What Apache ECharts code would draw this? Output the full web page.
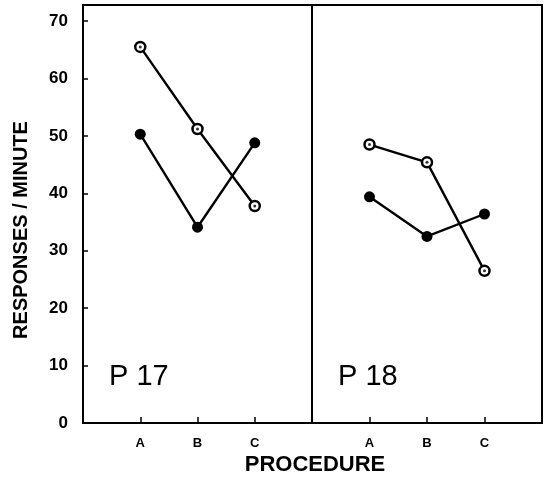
<!DOCTYPE html>
<html>
<head>
<meta charset="utf-8">
<script src="https://cdn.jsdelivr.net/npm/echarts@6/dist/echarts.min.js"></script>
<style>html,body{margin:0;padding:0;background:#fff;}#c{width:547px;height:482px;}</style>
</head>
<body>
<div id="c"></div>
<script>
const categories = ['A', 'B', 'C'];
const p17Open = [65.5, 51.2, 37.8];
const p17Filled = [50.3, 34.1, 48.8];
const p18Open = [48.5, 45.4, 26.5];
const p18Filled = [39.4, 32.5, 36.4];
const yTicks = [0, 10, 20, 30, 40, 50, 60, 70];
const panelLabels = ['P 17', 'P 18'];

const FONT = '"Liberation Sans", Arial, sans-serif';
const toXY = arr => arr.map((v, i) => [i + 1, v]);
const xPos = categories.map((c, i) => i + 1);

function xAxis(idx) {
  return {
    type: 'value', gridIndex: idx, min: 0, max: 4, interval: 1,
    axisLine: { show: true, lineStyle: { color: '#000', width: 2 } },
    axisTick: { show: true, inside: true, length: 6, customValues: xPos, lineStyle: { color: '#000', width: 1.5 } },
    axisLabel: {
      show: true, customValues: xPos, margin: 14, color: '#000',
      fontFamily: FONT, fontWeight: 'bold', fontSize: 13,
      formatter: v => categories[Math.round(v) - 1] || ''
    },
    splitLine: { show: false }
  };
}
function yAxis(idx) {
  return {
    type: 'value', gridIndex: idx, min: 0, max: 72.8, interval: 10,
    axisLine: { show: true, lineStyle: { color: '#000', width: 2 } },
    axisTick: { show: idx === 0, inside: true, length: 5, customValues: yTicks, lineStyle: { color: '#000', width: 1.5 } },
    axisLabel: {
      show: idx === 0, customValues: yTicks, margin: 15, color: '#000',
      fontFamily: FONT, fontWeight: 'bold', fontSize: 17
    },
    splitLine: { show: false }
  };
}
function lineSeries(idx, data, filled) {
  return {
    type: 'line', xAxisIndex: idx, yAxisIndex: idx, data: toXY(data),
    symbol: 'circle', symbolSize: filled ? 11 : 10,
    lineStyle: { color: '#000', width: 2.4 },
    itemStyle: { color: filled ? '#000' : '#fff', borderColor: '#000', borderWidth: filled ? 0 : 2.5 },
    z: 2, silent: true, animation: false
  };
}
function dotSeries(idx, data) {
  return {
    type: 'scatter', xAxisIndex: idx, yAxisIndex: idx, data: toXY(data),
    symbol: 'circle', symbolSize: 3, itemStyle: { color: '#000' },
    z: 5, silent: true, animation: false
  };
}

const chart = echarts.init(document.getElementById('c'), null, { renderer: 'canvas' });
chart.setOption({
  animation: false,
  backgroundColor: '#fff',
  grid: [
    { left: 83, top: 5, width: 229, height: 418, show: true, borderColor: '#000', borderWidth: 2, backgroundColor: 'transparent' },
    { left: 312, top: 5, width: 230, height: 418, show: true, borderColor: '#000', borderWidth: 2, backgroundColor: 'transparent' }
  ],
  xAxis: [xAxis(0), xAxis(1)],
  yAxis: [yAxis(0), yAxis(1)],
  series: [
    lineSeries(0, p17Open, false), dotSeries(0, p17Open),
    lineSeries(0, p17Filled, true),
    lineSeries(1, p18Open, false), dotSeries(1, p18Open),
    lineSeries(1, p18Filled, true)
  ],
  graphic: [
    { type: 'text', left: 109, top: 362, style: { text: panelLabels[0], fontFamily: FONT, fontSize: 29, fill: '#000' } },
    { type: 'text', left: 338, top: 362, style: { text: panelLabels[1], fontFamily: FONT, fontSize: 29, fill: '#000' } },
    { type: 'text', x: 315, y: 465, style: { text: 'PROCEDURE', fontFamily: FONT, fontWeight: 'bold', fontSize: 22, fill: '#000', align: 'center', verticalAlign: 'middle' } },
    { type: 'text', x: 21, y: 230, rotation: Math.PI / 2, style: { text: 'RESPONSES / MINUTE', fontFamily: FONT, fontWeight: 'bold', fontSize: 20, fill: '#000', align: 'center', verticalAlign: 'middle' } }
  ]
});
</script>
</body>
</html>
